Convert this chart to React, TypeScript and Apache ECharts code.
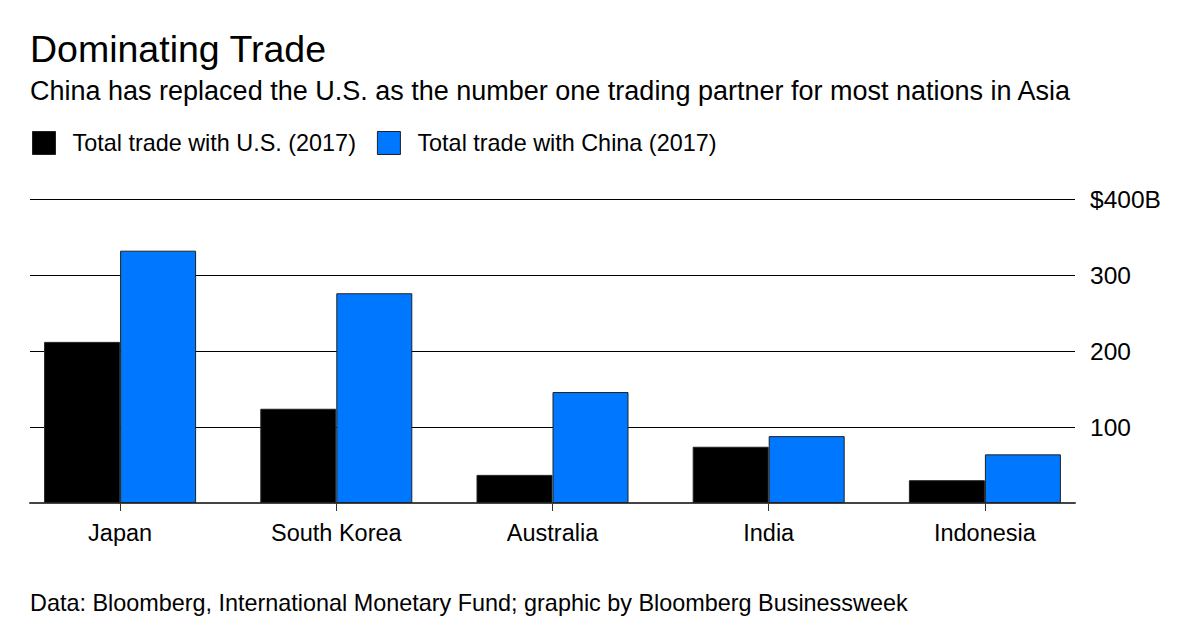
import React, { useEffect, useRef } from "react";
import * as echarts from "echarts";

const categories = ["Japan", "South Korea", "Australia", "India", "Indonesia"];
const usTrade = [212, 124, 37, 74, 30];
const chinaTrade = [332, 276, 146, 88, 64];
const yTicks = [0, 100, 200, 300, 400];

const FONT = "'Liberation Sans', Arial, Helvetica, sans-serif";

export default function App() {
  const ref = useRef<HTMLDivElement>(null);
  useEffect(() => {
    const chart = echarts.init(ref.current!, null, { renderer: "svg" });
    chart.setOption({
      animation: false,
      backgroundColor: "#fff",
      textStyle: { fontFamily: FONT },
      title: [
        {
          text: "Dominating Trade",
          left: 30,
          top: 30,
          padding: 0,
          textStyle: { fontSize: 37.5, fontWeight: "normal", color: "#000", fontFamily: FONT },
        },
        {
          text: "China has replaced the U.S. as the number one trading partner for most nations in Asia",
          left: 30,
          top: 77.5,
          padding: 0,
          textStyle: { fontSize: 27, fontWeight: "normal", color: "#000", fontFamily: FONT },
        },
        {
          text: "Data: Bloomberg, International Monetary Fund; graphic by Bloomberg Businessweek",
          left: 30,
          top: 591,
          padding: 0,
          textStyle: { fontSize: 23.4, fontWeight: "normal", color: "#000", fontFamily: FONT },
        },
      ],
      legend: {
        left: 27,
        top: 126,
        itemWidth: 23,
        itemHeight: 23,
        itemGap: 21,
        icon: "rect",
        data: [
          { name: "Total trade with U.S. (2017)", itemStyle: { borderColor: "#222", borderWidth: 1 } },
          { name: "Total trade with China (2017)", itemStyle: { borderColor: "#222", borderWidth: 1 } },
        ],
        textStyle: { fontSize: 23.4, color: "#000", padding: [0, 0, 0, 12], fontFamily: FONT },
      },
      grid: [
        { left: 30, right: 125, top: 199, height: 304 },
        { left: 12, right: 107, top: 199, height: 304 },
      ],
      xAxis: [
        {
          gridIndex: 0,
          type: "value",
          min: 0,
          max: 1,
          axisLine: { show: true, lineStyle: { color: "#444", width: 2 } },
          axisTick: { show: false },
          axisLabel: { show: false },
          splitLine: { show: false },
        },
        {
          gridIndex: 1,
          type: "category",
          data: categories,
          axisLine: { show: false },
          axisTick: { show: true, alignWithLabel: true, length: 8, lineStyle: { color: "#333" } },
          axisLabel: { fontSize: 23.5, color: "#000", margin: 18, fontFamily: FONT },
        },
      ],
      yAxis: [
        {
          gridIndex: 0,
          type: "value",
          position: "right",
          min: 0,
          max: 400,
          interval: 100,
          axisLine: { show: false },
          axisTick: { show: false },
          axisLabel: {
            margin: 15,
            fontSize: 24.5,
            color: "#000",
            fontFamily: FONT,
            formatter: (v: number) => (v === 0 ? "" : v === yTicks[yTicks.length - 1] ? "$" + v + "B" : String(v)),
          },
          splitLine: { show: true, lineStyle: { color: "#000", width: 1.2 } },
        },
        {
          gridIndex: 1,
          type: "value",
          min: 0,
          max: 400,
          interval: 100,
          show: false,
          splitLine: { show: false },
        },
      ],
      series: [
        {
          name: "Total trade with U.S. (2017)",
          type: "bar",
          xAxisIndex: 1,
          yAxisIndex: 1,
          data: usTrade,
          barWidth: 76,
          barGap: "0%",
          itemStyle: { color: "#000", borderColor: "#222", borderWidth: 1 },
        },
        {
          name: "Total trade with China (2017)",
          type: "bar",
          xAxisIndex: 1,
          yAxisIndex: 1,
          data: chinaTrade,
          barWidth: 76,
          barGap: "0%",
          itemStyle: { color: "#0077FF", borderColor: "#222", borderWidth: 1 },
        },
      ],
    });
    return () => chart.dispose();
  }, []);
  return <div ref={ref} style={{ width: 1200, height: 630, position: "absolute", left: 0, top: 0 }} />;
}
